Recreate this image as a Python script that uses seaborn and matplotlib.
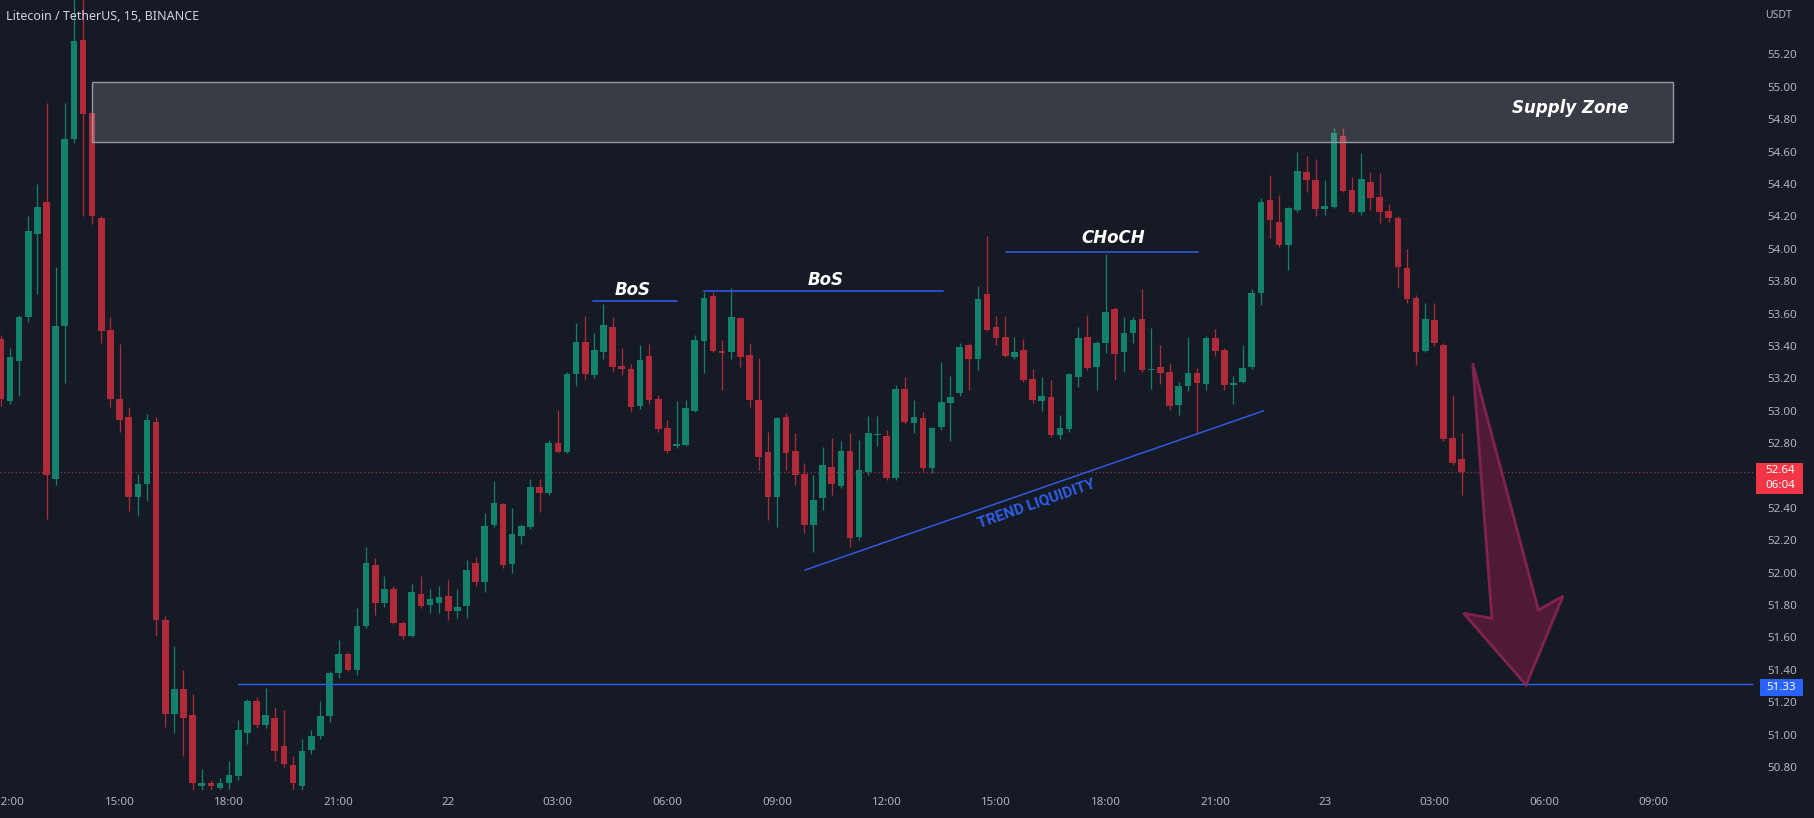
import numpy as np
import pandas as pd
import matplotlib
matplotlib.use("Agg")
import matplotlib.pyplot as plt
from matplotlib.patches import Rectangle, Polygon
import seaborn as sns

# ---------------- data (15-minute LTC/USDT candles, first = 21st 11:45) ----------------
opens = [53.44, 53.06, 53.31, 53.58, 54.09, 54.29, 52.58, 53.52, 54.68, 55.29,
         54.84, 54.19, 53.50, 53.07, 52.96, 52.47, 52.55, 52.93, 51.71, 51.13,
         51.28, 51.12, 50.68, 50.70, 50.67, 50.70, 50.745, 51.01, 51.21, 51.06,
         51.10, 50.93, 50.81, 50.68, 50.905, 50.99, 51.115, 51.38, 51.50, 51.40,
         51.67, 52.05, 51.81, 51.897, 51.687, 51.61, 51.87, 51.80, 51.815, 51.856,
         51.765, 51.794, 52.06, 51.94, 52.294, 52.424, 52.053, 52.226, 52.284, 52.527,
         52.49, 52.80, 52.747, 53.227, 53.426, 53.22, 53.365, 53.515, 53.276, 53.26,
         53.03, 53.338, 53.07, 52.891, 52.78, 52.788, 53.00, 53.432, 53.708, 53.37,
         53.364, 53.57, 53.344, 53.066, 52.747, 52.469, 52.963, 52.753, 52.609, 52.294,
         52.459, 52.654, 52.535, 52.753, 52.22, 52.624, 52.85, 52.844, 52.582, 53.132,
         52.926, 52.953, 52.644, 52.897, 53.05, 53.107, 53.406, 53.317, 53.72, 53.519,
         53.453, 53.334, 53.375, 53.194, 53.062, 53.083, 52.85, 52.885, 53.21, 53.457,
         53.272, 53.42, 53.626, 53.365, 53.482, 53.564, 53.251, 53.272, 53.241, 53.035,
         53.152, 53.231, 53.165, 53.447, 53.375, 53.159, 53.179, 53.272, 53.725, 54.30,
         54.167, 54.023, 54.239, 54.476, 54.425, 54.244, 54.256, 54.697, 54.363, 54.229,
         54.414, 54.318, 54.235, 54.188, 53.879, 53.694, 53.371, 53.56, 53.406, 52.83,
         52.70]
highs = [53.47, 53.39, 53.59, 54.20, 54.40, 54.90, 53.89, 54.90, 55.60, 55.70,
         54.86, 54.20, 53.58, 53.41, 53.02, 52.61, 52.98, 52.96, 51.73, 51.55,
         51.40, 51.25, 50.79, 50.72, 50.73, 50.84, 51.09, 51.22, 51.23, 51.29,
         51.17, 51.15, 50.87, 50.97, 51.03, 51.21, 51.39, 51.585, 51.51, 51.78,
         52.16, 52.09, 51.98, 51.92, 51.70, 51.93, 51.98, 51.90, 51.92, 51.955,
         51.90, 52.08, 52.095, 52.37, 52.566, 52.43, 52.40, 52.30, 52.576, 52.576,
         52.82, 53.004, 53.24, 53.54, 53.585, 53.48, 53.66, 53.576, 53.385, 53.29,
         53.406, 53.41, 53.10, 52.94, 53.06, 53.066, 53.467, 53.735, 53.73, 53.437,
         53.755, 53.58, 53.416, 53.323, 52.87, 52.96, 52.988, 52.864, 52.675, 52.603,
         52.778, 52.83, 52.81, 52.86, 52.82, 52.97, 52.97, 52.88, 53.16, 53.21,
         53.066, 52.994, 52.90, 53.303, 53.214, 53.42, 53.42, 53.77, 54.079, 53.585,
         53.585, 53.457, 53.44, 53.26, 53.21, 53.19, 52.973, 53.235, 53.519, 53.591,
         53.43, 53.97, 53.64, 53.577, 53.58, 53.75, 53.509, 53.406, 53.293, 53.18,
         53.453, 53.262, 53.46, 53.502, 53.39, 53.214, 53.406, 53.75, 54.311, 54.455,
         54.332, 54.26, 54.60, 54.573, 54.552, 54.425, 54.744, 54.744, 54.445, 54.594,
         54.476, 54.466, 54.277, 54.20, 53.997, 53.715, 53.663, 53.663, 53.42, 53.10,
         52.86]
lows = [53.03, 53.04, 53.09, 53.55, 53.72, 52.33, 52.54, 53.17, 54.65, 54.20,
        54.15, 53.42, 53.02, 52.87, 52.38, 52.35, 52.44, 51.61, 51.05, 51.01,
        50.87, 50.62, 50.62, 50.62, 50.62, 50.66, 50.72, 50.94, 51.04, 51.04,
        50.84, 50.80, 50.66, 50.66, 50.88, 50.97, 51.08, 51.35, 51.39, 51.37,
        51.66, 51.74, 51.79, 51.68, 51.59, 51.60, 51.78, 51.75, 51.75, 51.71,
        51.72, 51.72, 51.92, 51.88, 52.28, 52.03, 52.00, 52.18, 52.27, 52.376,
        52.48, 52.737, 52.74, 53.15, 53.19, 53.20, 53.32, 53.24, 53.22, 53.00,
        53.01, 53.04, 52.87, 52.737, 52.77, 52.78, 52.99, 53.23, 53.36, 53.128,
        53.32, 53.27, 53.025, 52.634, 52.325, 52.284, 52.634, 52.541, 52.243, 52.13,
        52.387, 52.479, 52.52, 52.16, 52.20, 52.60, 52.78, 52.57, 52.57, 52.92,
        52.86, 52.63, 52.613, 52.88, 52.81, 53.09, 53.128, 53.25, 53.49, 53.406,
        53.33, 53.32, 53.18, 53.05, 53.00, 52.836, 52.823, 52.87, 53.148, 53.25,
        53.128, 53.354, 53.19, 53.241, 53.42, 53.24, 53.132, 53.165, 53.004, 52.973,
        53.124, 52.864, 53.128, 53.338, 53.128, 53.041, 53.17, 53.26, 53.653, 54.064,
        54.01, 53.869, 54.23, 54.353, 54.20, 54.209, 54.25, 54.35, 54.219, 54.209,
        54.24, 54.157, 54.167, 53.756, 53.667, 53.282, 53.36, 53.40, 52.81, 52.665,
        52.48]
closes = [53.07, 53.33, 53.58, 54.11, 54.26, 52.60, 53.52, 54.68, 55.28, 54.83,
          54.20, 53.49, 53.07, 52.94, 52.47, 52.55, 52.94, 51.71, 51.13, 51.28,
          51.10, 50.70, 50.70, 50.68, 50.70, 50.75, 51.03, 51.21, 51.06, 51.12,
          50.90, 50.82, 50.70, 50.90, 50.99, 51.115, 51.38, 51.50, 51.40, 51.67,
          52.06, 51.815, 51.90, 51.687, 51.61, 51.88, 51.794, 51.835, 51.85, 51.765,
          51.786, 52.016, 51.944, 52.288, 52.432, 52.047, 52.24, 52.288, 52.53, 52.49,
          52.803, 52.747, 53.227, 53.426, 53.227, 53.375, 53.53, 53.272, 53.255, 53.02,
          53.313, 53.066, 52.887, 52.753, 52.794, 53.015, 53.437, 53.694, 53.37, 53.356,
          53.576, 53.334, 53.066, 52.716, 52.469, 52.953, 52.74, 52.603, 52.294, 52.449,
          52.665, 52.547, 52.753, 52.212, 52.634, 52.864, 52.855, 52.582, 53.132, 52.932,
          52.96, 52.644, 52.891, 53.056, 53.083, 53.395, 53.317, 53.688, 53.498, 53.447,
          53.338, 53.365, 53.19, 53.066, 53.091, 52.85, 52.891, 53.227, 53.447, 53.262,
          53.416, 53.607, 53.35, 53.482, 53.56, 53.251, 53.26, 53.231, 53.029, 53.152,
          53.231, 53.173, 53.451, 53.37, 53.159, 53.169, 53.262, 53.725, 54.291, 54.177,
          54.023, 54.249, 54.48, 54.425, 54.244, 54.264, 54.713, 54.357, 54.229, 54.429,
          54.312, 54.229, 54.188, 53.886, 53.688, 53.365, 53.564, 53.416, 52.824, 52.679,
          52.62]

time_labels = ["12:00", "15:00", "18:00", "21:00", "22", "03:00", "06:00", "09:00",
               "12:00", "15:00", "18:00", "21:00", "23", "03:00", "06:00", "09:00"]
time_label_idx = [1, 13, 25, 37, 49, 61, 73, 85, 97, 109, 121, 133, 145, 157, 169, 181]

last_price_label = "52.64"
last_price = 52.62
target_label = "51.33"
target_level = 51.31
supply_low, supply_high = 54.66, 55.03
bos1_price, bos2_price, choch_price = 53.68, 53.74, 53.98
trend_start = (88.07, 52.016)
trend_end = (138.27, 52.999)

# ---------------- style ----------------
BG = "#161a25"
UP = "#12826c"
DOWN = "#b02a39"
TXT = "#b2b5be"
BLUE = "#2962ff"

sns.set_theme(style="dark", rc={"axes.facecolor": BG, "figure.facecolor": BG,
                                "axes.edgecolor": BG, "grid.color": BG})
plt.rcParams["font.family"] = ["Noto Sans", "DejaVu Sans"]

df = pd.DataFrame({"o": opens, "h": highs, "l": lows, "c": closes})
df["idx"] = np.arange(len(df))
df["up"] = df["c"] >= df["o"]
df["color"] = np.where(df["up"], UP, DOWN)
df["bottom"] = df[["o", "c"]].min(axis=1)
df["height"] = (df["c"] - df["o"]).abs().clip(lower=0.007)

W, H = 1814, 818
fig = plt.figure(figsize=(W / 100, H / 100), dpi=100)
ax = fig.add_axes([0, 28 / H, 1753 / W, 790 / H])
ax.set_facecolor(BG)

# wicks and bodies
ax.vlines(df["idx"], df["l"], df["h"], colors=df["color"], linewidth=0.9, zorder=2)
ax.bar(df["idx"], df["height"], bottom=df["bottom"], width=0.72,
       color=df["color"], linewidth=0, zorder=3)

ax.set_xlim(-0.095, 191.9)
ax.set_ylim(50.658, 55.536)

# supply zone
ax.add_patch(Rectangle((10.0, supply_low), 183.1 - 10.0, supply_high - supply_low,
                       facecolor=(1, 1, 1, 0.15), edgecolor="#9598a1", linewidth=1.0, zorder=4))
ax.text(171.9, 54.872, "Supply Zone", color="white", fontsize=12, fontweight="bold",
        style="italic", family="DejaVu Sans", ha="center", va="center", zorder=6)

# last price dotted line
ax.axhline(last_price, color="#a03a4a", linestyle=(0, (1, 2)), linewidth=0.9, alpha=0.9, zorder=1)

# target level
ax.plot([26.0, 191.9], [target_level, target_level], color=BLUE, linewidth=1.0, zorder=4)

# BoS / CHoCH markings
ax.plot([64.8, 74.1], [bos1_price, bos1_price], color="#2f52d8", linewidth=1.3, zorder=4)
ax.text(69.2, 53.745, "BoS", color="white", fontsize=12, fontweight="bold", style="italic",
        family="DejaVu Sans", ha="center", va="center", zorder=6)
ax.plot([77.0, 103.2], [bos2_price, bos2_price], color="#2f52d8", linewidth=1.3, zorder=4)
ax.text(90.3, 53.81, "BoS", color="white", fontsize=12, fontweight="bold", style="italic",
        family="DejaVu Sans", ha="center", va="center", zorder=6)
ax.plot([110.05, 131.15], [choch_price, choch_price], color="#2f52d8", linewidth=1.3, zorder=4)
ax.text(121.8, 54.064, "CHoCH", color="white", fontsize=12, fontweight="bold", style="italic",
        family="DejaVu Sans", ha="center", va="center", zorder=6)

# trend liquidity
ax.plot([trend_start[0], trend_end[0]], [trend_start[1], trend_end[1]],
        color="#3358e0", linewidth=1.1, zorder=4)
ax.text(113.45, 52.428, "TREND LIQUIDITY", color="#2f5ee8", fontsize=11, fontweight="bold",
        family="Roboto", rotation=19.2, rotation_mode="anchor", ha="center", va="center", zorder=6)

# big arrow
arrow_pts = [(161.2, 53.293), (168.4, 51.77), (171.1, 51.856), (167.05, 51.306),
             (160.2, 51.749), (163.3, 51.718)]
ax.add_patch(Polygon(arrow_pts, closed=True, facecolor="#5a1b38", edgecolor="#8e2553",
                     linewidth=2.0, alpha=0.85, zorder=5))

# axes ticks
for s in ax.spines.values():
    s.set_visible(False)
ax.grid(False)
ax.yaxis.tick_right()
yt = np.round(np.arange(50.8, 55.201, 0.2), 2)
ax.set_yticks(yt)
ax.set_yticklabels(["" if abs(v - 52.6) < 1e-6 else f"{v:.2f}" for v in yt])
ax.set_xticks(time_label_idx)
ax.set_xticklabels(time_labels)
ax.tick_params(axis="y", colors=TXT, length=0, pad=10, labelsize=8.3)
ax.tick_params(axis="x", colors=TXT, length=0, pad=5, labelsize=8.3)

# title and axis decorations
fig.text(6 / W, 1 - 17 / H, "Litecoin / TetherUS, 15, BINANCE", color="#d1d4dc",
         fontsize=9, ha="left", va="center")
fig.text(1779 / W, 1 - 15 / H, "USDT", color=TXT, fontsize=7.5, ha="center", va="center")

# last price label
fig.add_artist(Rectangle((1756 / W, 1 - 494 / H), 47 / W, 31 / H, transform=fig.transFigure,
                         facecolor="#f23645", edgecolor="none", zorder=5))
fig.text(1780 / W, 1 - 471 / H, last_price_label, color="white", fontsize=8.3,
         ha="center", va="center", zorder=6)
fig.text(1780 / W, 1 - 486 / H, "06:04", color="white", fontsize=8.3,
         ha="center", va="center", zorder=6)

# target label
fig.add_artist(Rectangle((1760 / W, 1 - 696 / H), 43 / W, 17 / H, transform=fig.transFigure,
                         facecolor=BLUE, edgecolor="none", zorder=5))
fig.text(1781 / W, 1 - 687.5 / H, target_label, color="white", fontsize=8.3,
         ha="center", va="center", zorder=6)

fig.savefig("out.png", dpi=100, facecolor=BG)
